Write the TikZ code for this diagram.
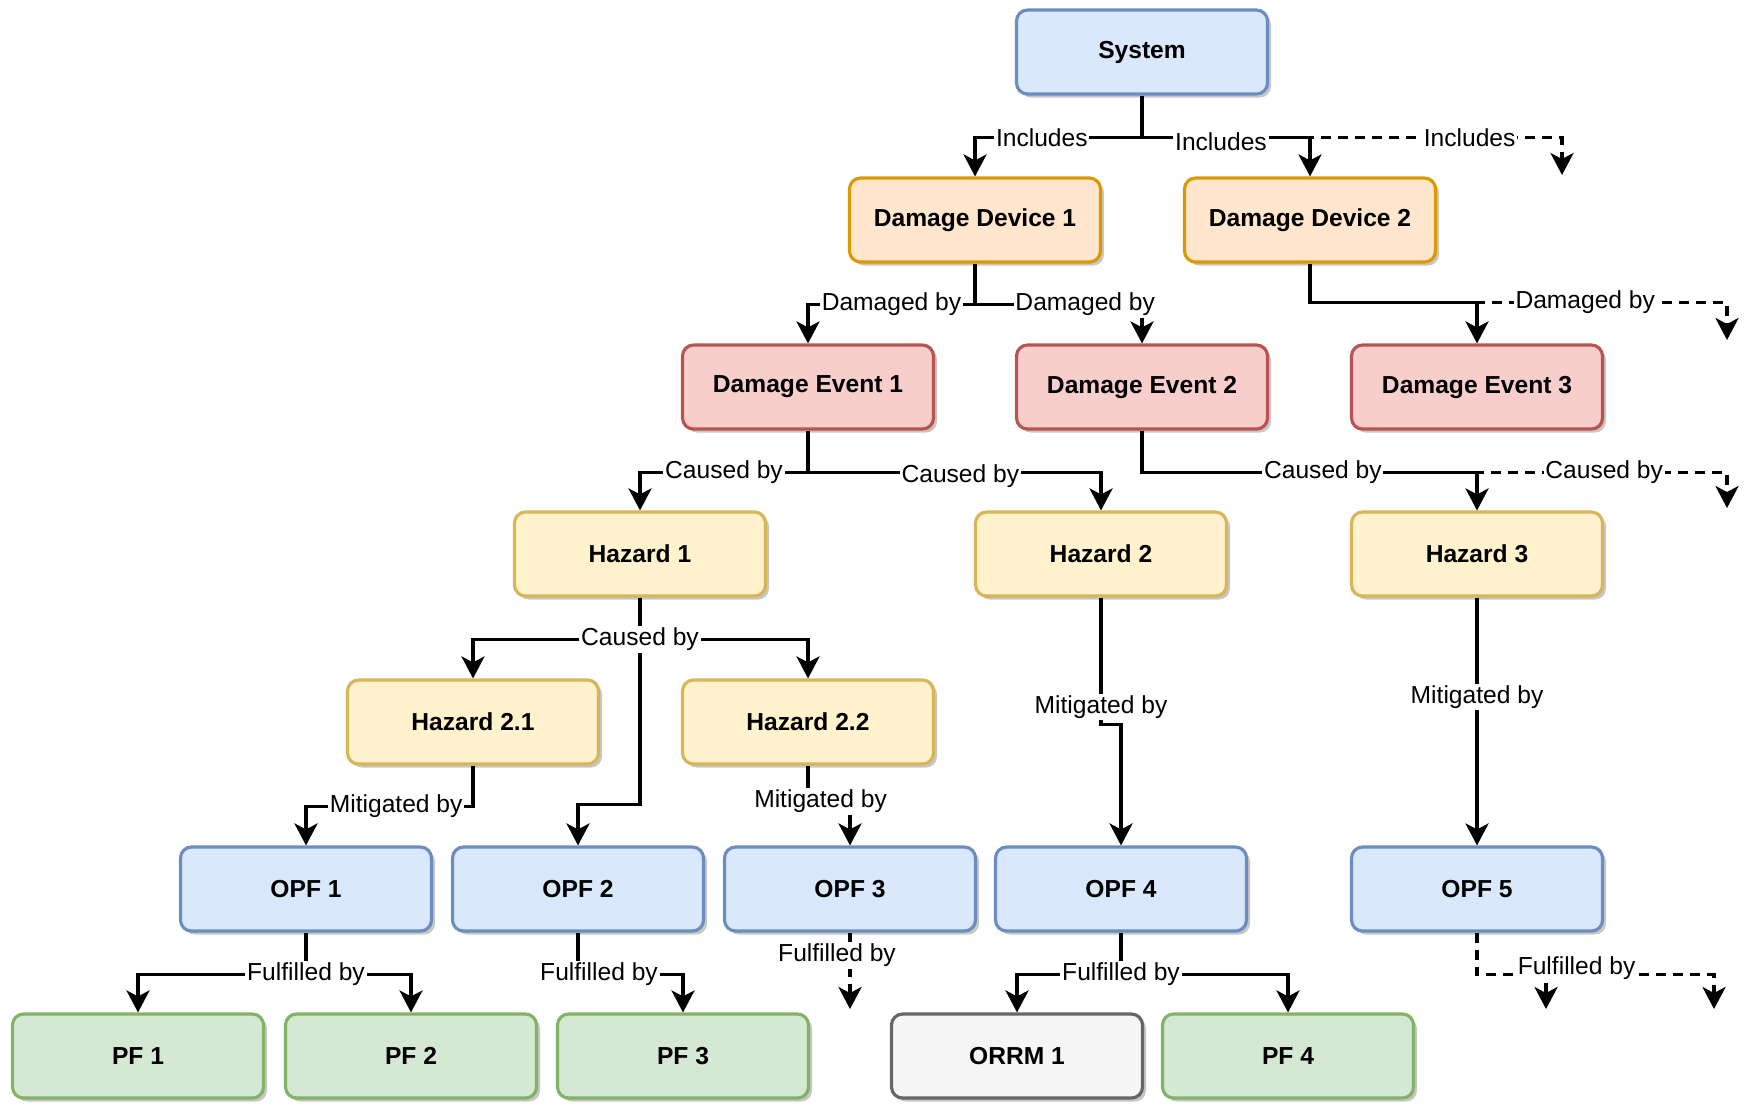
\documentclass[tikz,border=0pt]{standalone}
\usepackage{fontspec}
\setmainfont{Liberation Sans}
\usepackage{tikz}
\usetikzlibrary{arrows.meta,shadows}
\definecolor{bluebg}{RGB}{218,232,252}
\definecolor{blueln}{RGB}{108,142,191}
\definecolor{orgbg}{RGB}{255,230,204}
\definecolor{orgln}{RGB}{215,155,0}
\definecolor{redbg}{RGB}{248,206,204}
\definecolor{redln}{RGB}{184,84,80}
\definecolor{ylwbg}{RGB}{255,242,204}
\definecolor{ylwln}{RGB}{214,182,86}
\definecolor{grnbg}{RGB}{213,232,212}
\definecolor{grnln}{RGB}{130,179,102}
\definecolor{grybg}{RGB}{245,245,245}
\definecolor{gryln}{RGB}{102,102,102}

\begin{document}
\begin{tikzpicture}[
  x=0.1mm, y=-0.1mm,
  font=\fontsize{7}{8.4}\selectfont,
  box/.style={rectangle, rounded corners=1.1mm,
              minimum width=25.1mm, minimum height=8.4mm,
              line width=0.9pt, font=\fontsize{7}{8.4}\selectfont\bfseries,
              drop shadow={shadow xshift=0.35mm, shadow yshift=-0.35mm,
                           fill=black, opacity=0.22}},
  blu/.style={box, draw=blueln, fill=bluebg},
  org/.style={box, draw=orgln, fill=orgbg},
  rd/.style={box, draw=redln, fill=redbg},
  ylw/.style={box, draw=ylwln, fill=ylwbg},
  grn/.style={box, draw=grnln, fill=grnbg},
  gry/.style={box, draw=gryln, fill=grybg},
  arr/.style={-{Stealth[length=2.2mm, width=2.3mm, inset=0.6mm]},
              line width=1pt},
  darr/.style={arr, dash pattern=on 1.0mm off 0.7mm},
  lbl/.style={fill=white, inner sep=0.5pt},
]
  \useasboundingbox (0,0) rectangle (1749,1106);

  % Levels
  \node[blu] (sys) at (1142,52) {System};
  \node[org] (dd1) at (975,220) {Damage Device 1};
  \node[org] (dd2) at (1310,220) {Damage Device 2};
  \node[rd] (de1) at (808,387) {Damage Event 1};
  \node[rd] (de2) at (1142,387) {Damage Event 2};
  \node[rd] (de3) at (1477,387) {Damage Event 3};
  \node[ylw] (hz1) at (640,554) {Hazard 1};
  \node[ylw] (hz2) at (1101,554) {Hazard 2};
  \node[ylw] (hz3) at (1477,554) {Hazard 3};
  \node[ylw] (hz21) at (473,722) {Hazard 2.1};
  \node[ylw] (hz22) at (808,722) {Hazard 2.2};
  \node[blu] (opf1) at (306,889) {OPF 1};
  \node[blu] (opf2) at (578,889) {OPF 2};
  \node[blu] (opf3) at (850,889) {OPF 3};
  \node[blu] (opf4) at (1121,889) {OPF 4};
  \node[blu] (opf5) at (1477,889) {OPF 5};
  \node[grn] (pf1) at (138,1056) {PF 1};
  \node[grn] (pf2) at (411,1056) {PF 2};
  \node[grn] (pf3) at (683,1056) {PF 3};
  \node[gry] (orrm1) at (1017,1056) {ORRM 1};
  \node[grn] (pf4) at (1288,1056) {PF 4};

  % Open ends
  \coordinate (incE) at (1562,175);
  \coordinate (dmgE) at (1727,340);
  \coordinate (csdE) at (1727,508);
  \coordinate (fulE) at (850,1009);
  \coordinate (fulA) at (1546,1009);
  \coordinate (fulB) at (1714,1009);

  % System
  \draw[darr] (sys.south) -- ++(0,42) -| node[lbl,pos=0.39]{Includes} (incE);
  \draw[arr] (sys.south) -- ++(0,42) -| node[lbl,pos=0.3]{Includes} (dd1.north);
  \draw[arr] (sys.south) -- ++(0,42) -| node[lbl,pos=0.235,yshift=-0.4mm]{Includes} (dd2.north);

  % Devices
  \draw[arr] (dd1.south) -- ++(0,41) -| node[lbl,pos=0.25]{Damaged by} (de1.north);
  \draw[arr] (dd1.south) -- ++(0,41) -| node[lbl,pos=0.33]{Damaged by} (de2.north);
  \draw[darr] (dd2.south) -- ++(0,39) -| node[lbl,pos=0.33]{Damaged by} (dmgE);
  \draw[arr] (dd2.south) -- ++(0,39) -| (de3.north);

  % Events
  \draw[arr] (de1.south) -- ++(0,42) -| node[lbl,pos=0.25]{Caused by} (hz1.north);
  \draw[arr] (de1.south) -- ++(0,42) -| node[lbl,pos=0.26,yshift=-0.4mm]{Caused by} (hz2.north);
  \draw[darr] (de2.south) -- ++(0,42) -| node[lbl,pos=0.395]{Caused by} (csdE);
  \draw[arr] (de2.south) -- ++(0,42) -| node[lbl,pos=0.27]{Caused by} (hz3.north);

  % Hazards
  \draw[arr] (hz1.south) -- ++(0,207) -| (opf2.north);
  \draw[arr] (hz1.south) -- ++(0,42) -| (hz21.north);
  \draw[arr] (hz1.south) -- ++(0,42) node[lbl]{Caused by} -| (hz22.north);
  \draw[arr] (hz21.south) -- ++(0,41) -| node[lbl,pos=0.23]{Mitigated by} (opf1.north);
  \draw[arr] (hz22.south) -- ++(0,36) -| node[lbl,pos=0.15]{Mitigated by} (opf3.north);
  \draw[arr] (hz2.south) -- ++(0,127) node[lbl,pos=0.86]{Mitigated by} -| (opf4.north);
  \draw[arr] (hz3.south) -- node[lbl,pos=0.4]{Mitigated by} (opf5.north);

  % OPFs
  \draw[arr] (opf1.south) -- ++(0,42) -| (pf1.north);
  \draw[arr] (opf1.south) -- ++(0,42) node[lbl]{Fulfilled by} -| (pf2.north);
  \draw[arr] (opf2.south) -- ++(0,42) -| node[lbl,pos=0.1]{Fulfilled by} (pf3.north);
  \draw[darr] (opf3.south) -- node[lbl,pos=0.3,xshift=-1.3mm]{Fulfilled by} (fulE);
  \draw[arr] (opf4.south) -- ++(0,42) -| (orrm1.north);
  \draw[arr] (opf4.south) -- ++(0,42) node[lbl]{Fulfilled by} -| (pf4.north);
  \draw[darr] (opf5.south) -- ++(0,42) -| (fulA);
  \draw[darr] (opf5.south) -- ++(0,42) -| node[lbl,pos=0.21,yshift=0.6mm]{Fulfilled by} (fulB);
\end{tikzpicture}
\end{document}
